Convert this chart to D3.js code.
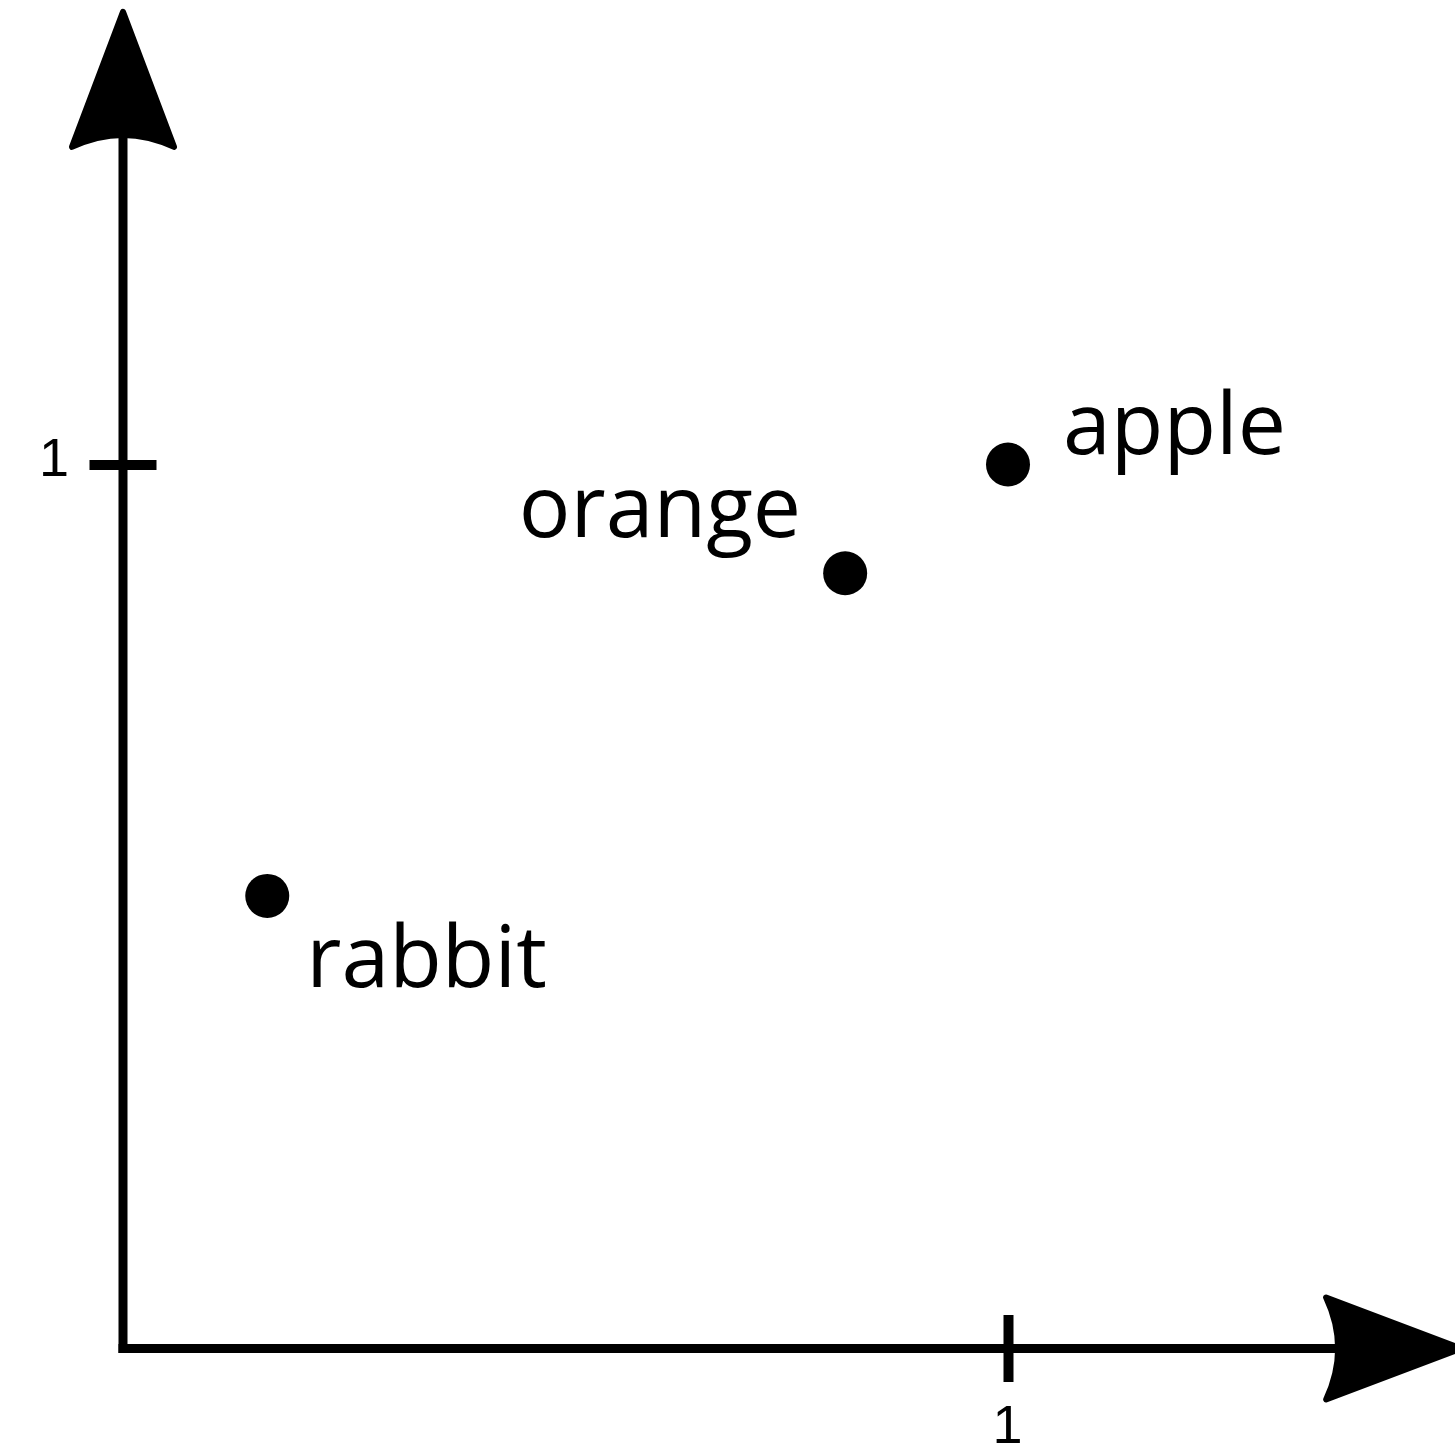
<!DOCTYPE html>
<html>
<head>
<meta charset="utf-8">
<script src="https://cdn.jsdelivr.net/npm/d3@7"></script>
<style>
    html, body { margin: 0; padding: 0; background: #fff; }
    svg { display: block; }
</style>
</head>
<body>
<div id="chart"></div>
<script>
// data
const names = ["apple", "orange", "rabbit"];
const xValues = [1.0, 0.816, 0.163];
const yValues = [1.0, 0.877, 0.512];
const tickValues = [1];
const tickLabels = ["1"];

render();

function render() {
    const width = 1455, height = 1448;
    const origin = { x: 123, y: 1348.5 };
    const axisMax = 1.512;      // axes run past 1 up to the arrow tips

    // label offsets from the dot, in pixels
    const labelOffset = {
        apple:  { dx: 55,  dy: -11, anchor: "start" },
        orange: { dx: -44, dy: -36, anchor: "end" },
        rabbit: { dx: 39,  dy: 91,  anchor: "start" }
    };

    const svg = d3.select('#chart').append('svg')
        .attr('width', width)
        .attr('height', height);

    const x = d3.scaleLinear().domain([0, 1]).range([origin.x, origin.x + 885]);
    const y = d3.scaleLinear().domain([0, 1]).range([origin.y, origin.y - 884]);

    const points = names.map((n, i) => ({ name: n, x: xValues[i], y: yValues[i] }));

    // axis lines
    svg.append('line')
        .attr('x1', x(0)).attr('y1', y(0))
        .attr('x2', x(axisMax) - 100).attr('y2', y(0))
        .attr('stroke', '#000').attr('stroke-width', 9)
        .attr('stroke-linecap', 'square');
    svg.append('line')
        .attr('x1', x(0)).attr('y1', y(0))
        .attr('x2', x(0)).attr('y2', y(axisMax) + 100)
        .attr('stroke', '#000').attr('stroke-width', 9)
        .attr('stroke-linecap', 'square');

    // arrow head pointing up, tip at (0,0)
    const arrow = "M0,0 L51,135 Q0,111 -51,135 Z";
    svg.append('path')
        .attr('d', arrow)
        .attr('transform', `translate(${x(0)},${y(axisMax)})`)
        .attr('fill', '#000').attr('stroke', '#000')
        .attr('stroke-width', 6).attr('stroke-linejoin', 'round');
    svg.append('path')
        .attr('d', arrow)
        .attr('transform', `translate(${x(axisMax)},${y(0)}) rotate(90)`)
        .attr('fill', '#000').attr('stroke', '#000')
        .attr('stroke-width', 6).attr('stroke-linejoin', 'round');

    // ticks via d3 axes, then reshaped to cross the axis line
    const xAxis = d3.axisBottom(x).tickValues(tickValues)
        .tickFormat((d, i) => tickLabels[i]).tickSize(33).tickPadding(0);
    const gx = svg.append('g')
        .attr('transform', `translate(0,${y(0)})`)
        .call(xAxis);
    gx.select('.domain').remove();
    gx.selectAll('.tick line')
        .attr('y1', -33.5).attr('y2', 33.5)
        .attr('stroke', '#000').attr('stroke-width', 10);
    gx.selectAll('.tick text')
        .attr('y', 94).attr('dy', 0).attr('x', -1)
        .style('font-family', '"Liberation Sans", Arial, sans-serif')
        .style('font-size', '54px').attr('fill', '#000');

    const yAxis = d3.axisLeft(y).tickValues(tickValues)
        .tickFormat((d, i) => tickLabels[i]).tickSize(33).tickPadding(0);
    const gy = svg.append('g')
        .attr('transform', `translate(${x(0)},0)`)
        .call(yAxis);
    gy.select('.domain').remove();
    gy.selectAll('.tick line')
        .attr('x1', -33.5).attr('x2', 33.5)
        .attr('stroke', '#000').attr('stroke-width', 10);
    gy.selectAll('.tick text')
        .attr('x', -69).attr('dy', 0).attr('y', 10.5)
        .attr('text-anchor', 'middle')
        .style('font-family', '"Liberation Sans", Arial, sans-serif')
        .style('font-size', '54px').attr('fill', '#000');

    // dots
    svg.selectAll('circle.pt')
        .data(points)
        .join('circle')
        .attr('class', 'pt')
        .attr('cx', d => x(d.x))
        .attr('cy', d => y(d.y))
        .attr('r', 22)
        .attr('fill', '#000');

    // labels
    svg.selectAll('text.lbl')
        .data(points)
        .join('text')
        .attr('class', 'lbl')
        .attr('x', d => x(d.x) + labelOffset[d.name].dx)
        .attr('y', d => y(d.y) + labelOffset[d.name].dy)
        .attr('text-anchor', d => labelOffset[d.name].anchor)
        .style('font-family', '"Open Sans", sans-serif')
        .style('font-size', '86px')
        .attr('fill', '#000')
        .text(d => d.name);
}
</script>
</body>
</html>
